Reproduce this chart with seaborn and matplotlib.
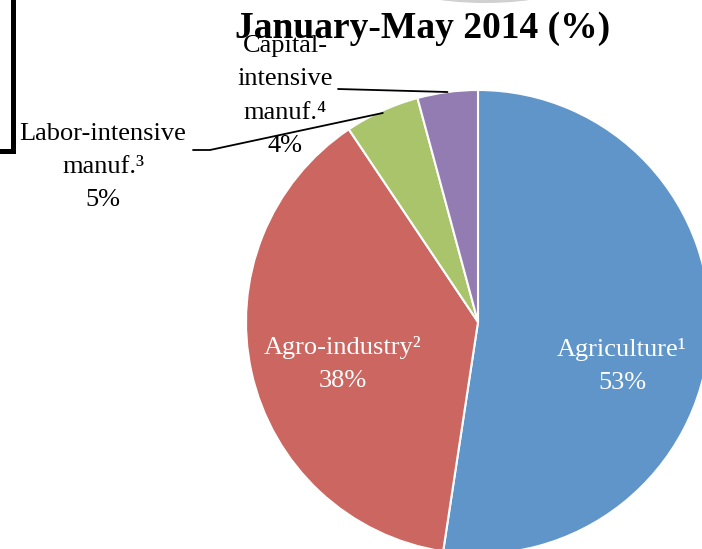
import numpy as np
import matplotlib
matplotlib.use('Agg')
import matplotlib.pyplot as plt
from matplotlib.lines import Line2D
from matplotlib.patches import Ellipse
import seaborn as sns

# ------------------------
# Data
# ------------------------
sectors = ['Agriculture', 'Agro-industry', 'Labor-intensive\nmanuf.', 'Capital-\nintensive\nmanuf.']
notes = ['¹', '²', '³', '⁴']
shares = [52.4, 38.2, 5.2, 4.2]
shown_pct = ['53%', '38%', '5%', '4%']
title = 'January-May 2014 (%)'

colors = sns.color_palette(['#6095c9', '#cc6660', '#a9c46b', '#937cb1'])

sns.set_theme(style='white')
plt.rcParams['font.family'] = ['Liberation Serif', 'DejaVu Serif']

W, H = 702, 549
fig = plt.figure(figsize=(W / 100, H / 100), dpi=100)

# pie centre / radius in pixels
cx, cy, r = 478, 322, 232
ax = fig.add_axes([(cx - r) / W, (H - cy - r) / H, 2 * r / W, 2 * r / H])

wedges, _ = ax.pie(shares, colors=colors, startangle=90, counterclock=False,
                   wedgeprops=dict(edgecolor='white', linewidth=1.5))
ax.set_xlim(-1, 1)
ax.set_ylim(-1, 1)
ax.set_aspect('equal')
ax.axis('off')
for w in wedges:
    w.set_clip_on(False)

def px(x, y):
    # pixel position -> data coords of the pie axes
    return (x - cx) / r, (cy - y) / r

fs = 19
ls = 1.65
# inside labels
for i, pos in [(0, (622, 366)), (1, (343, 364))]:
    lx, ly = px(*pos)
    ax.text(lx, ly, sectors[i] + notes[i] + '\n' + shown_pct[i], color='white',
            ha='center', va='center', fontsize=fs, linespacing=ls)

# outside labels with leader lines
def mid_point(w, rad=0.99):
    a = np.deg2rad((w.theta1 + w.theta2) / 2)
    return rad * np.cos(a), rad * np.sin(a)

lx, ly = px(103, 167)
ax.text(lx, ly, sectors[2] + notes[2] + '\n' + shown_pct[2], ha='center', va='center',
        fontsize=fs, linespacing=ls, color='black')
ex, ey = mid_point(wedges[2])
x0, y0 = px(193, 150)
x1, _ = px(210, 150)
ax.plot([x0, x1, ex], [y0, y0, ey], color='black', lw=1.3, clip_on=False)

lx, ly = px(285, 96)
ax.text(lx, ly, sectors[3] + notes[3] + '\n' + shown_pct[3], ha='center', va='center',
        fontsize=fs, linespacing=ls, color='black')
ex, ey = mid_point(wedges[3], 1.0)
x0, y0 = px(338, 89)
ax.plot([x0, ex], [y0, ey], color='black', lw=1.3, clip_on=False)

# shadow of the box above
fig.add_artist(Ellipse((485, H + 17), 170, 40, transform=None,
                       facecolor='#d0d0d0', edgecolor='none', zorder=0))
fig.add_artist(Ellipse((485, H + 19), 140, 36, transform=None,
                       facecolor='#f0f0f0', edgecolor='none', zorder=0))

# title
fig.text(423 / W, 1 - 29 / H, title, ha='center', va='center', fontsize=27,
         fontweight='bold', color='black')

# frame edge of neighbouring box
fig.add_artist(Line2D([13 / W, 13 / W, 0], [1.0, 1 - 151 / H, 1 - 151 / H],
                      color='black', lw=3.6, solid_joinstyle='miter'))

fig.savefig('out.png', dpi=100)
plt.close(fig)
